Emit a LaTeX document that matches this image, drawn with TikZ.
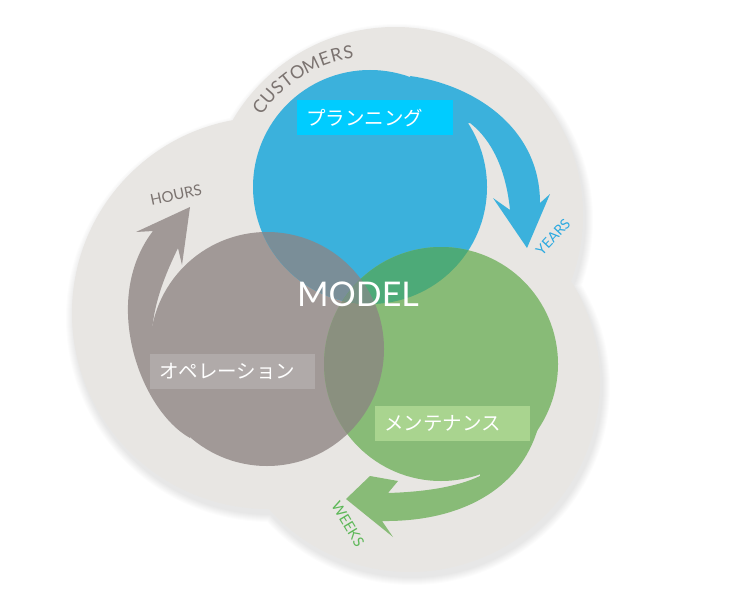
\documentclass[tikz,border=0pt]{standalone}
\usepackage{fontspec}
\setmainfont{Lato}
\newfontfamily\jpfont{Noto Sans CJK JP}
\usetikzlibrary{calc}
\definecolor{blob}{HTML}{E8E6E3}
\definecolor{opsgray}{HTML}{A19997}
\definecolor{planblue}{HTML}{3BB1DC}
\definecolor{maintgreen}{HTML}{88BB77}
\definecolor{bluegray}{HTML}{7A8E98}
\definecolor{greengray}{HTML}{8A907F}
\definecolor{bluegreen}{HTML}{4DAA78}
\definecolor{allthree}{HTML}{779184}
\definecolor{planbox}{HTML}{00CCFF}
\definecolor{opsbox}{HTML}{B0AAA9}
\definecolor{maintbox}{HTML}{A9D48F}
\definecolor{wordgray}{HTML}{7B7370}
\definecolor{yearsblue}{HTML}{2BA9E0}
\definecolor{weeksgreen}{HTML}{5DB858}

\begin{document}
\begin{tikzpicture}[x=1pt, y=-1pt,
  labelbox/.style={text=white, font=\jpfont\fontsize{19.5pt}{19.5pt}\selectfont, inner xsep=9pt, inner ysep=0pt, minimum height=35pt, align=left, anchor=west},
  ringword/.style={font=\fontsize{#1}{#1}\selectfont, inner sep=0pt}]
\useasboundingbox (0,0) rectangle (751,604);

\coordinate (plan) at (370,187);
\coordinate (ops) at (267,349);
\coordinate (maint) at (441,364);

\foreach \k in {1,...,8}
  \fill[black, opacity=0.012, shift={(2,5)}] (395,215) circle[radius=188+\k] (268,313) circle[radius=196+\k] (410,382) circle[radius=190+\k];
\fill[blob] (395,215) circle[radius=188] (268,313) circle[radius=196] (410,382) circle[radius=190];

\fill[opsgray] (190,438) .. controls (140,410) and (100,300) .. (153,231) -- (136,232) -- (190,207) -- (182,265) -- (178,248) .. controls (165,275) and (155,300) .. (152,330) -- (200,380) -- cycle;
\fill[planblue] (410,76) .. controls (470,84) and (540,125) .. (540,203) -- (550,194) -- (527,248) -- (493,198) -- (510,210) .. controls (506,170) and (492,140) .. (470,123) -- (430,130) -- cycle;
\fill[maintgreen] (538,428) .. controls (520,490) and (460,522) .. (382,521) -- (393,537) -- (346,499) -- (370,476) -- (398,481) -- (388,493) .. controls (420,492) and (455,488) .. (480,476) -- (480,440) -- cycle;

\fill[opsgray] (ops) circle[radius=117];
\fill[planblue] (plan) circle[radius=117];
\fill[maintgreen] (maint) circle[radius=117];
\begin{scope}
  \clip (ops) circle[radius=117];
  \fill[bluegray] (plan) circle[radius=117];
  \fill[greengray] (maint) circle[radius=117];
\end{scope}
\begin{scope}
  \clip (plan) circle[radius=117];
  \fill[bluegreen] (maint) circle[radius=117];
  \clip (ops) circle[radius=117];
  \fill[allthree] (maint) circle[radius=117];
\end{scope}

\node[labelbox, fill=planbox, text width=138pt] (planlabel) at (297,117.5) {プランニング};
\node[labelbox, fill=opsbox, text width=147pt] (opslabel) at (150,371) {オペレーション};
\node[labelbox, fill=maintbox, text width=137pt] (maintlabel) at (375,423) {メンテナンス};
\node[text=white, font=\fontsize{34pt}{34pt}\selectfont] (model) at (358,294) {MODEL};

\foreach \ch/\a [count=\i] in {C/144, U/138.4, S/133, T/128, O/122.3, M/115.8, E/109.6, R/104.4, S/99.3}
  \node[ringword=18pt, text=wordgray, rotate=\a-90] (cust\i) at ([shift={(-\a:136)}]plan) {\ch};
\node[ringword=15pt, text=wordgray, rotate=12] (hours) at (176,195) {HOURS};
\node[ringword=14pt, text=yearsblue, rotate=47] (years) at (553,237) {YEARS};
\node[ringword=14.5pt, text=weeksgreen, rotate=-59] (weeks) at (348,524) {WEEKS};
\end{tikzpicture}
\end{document}
